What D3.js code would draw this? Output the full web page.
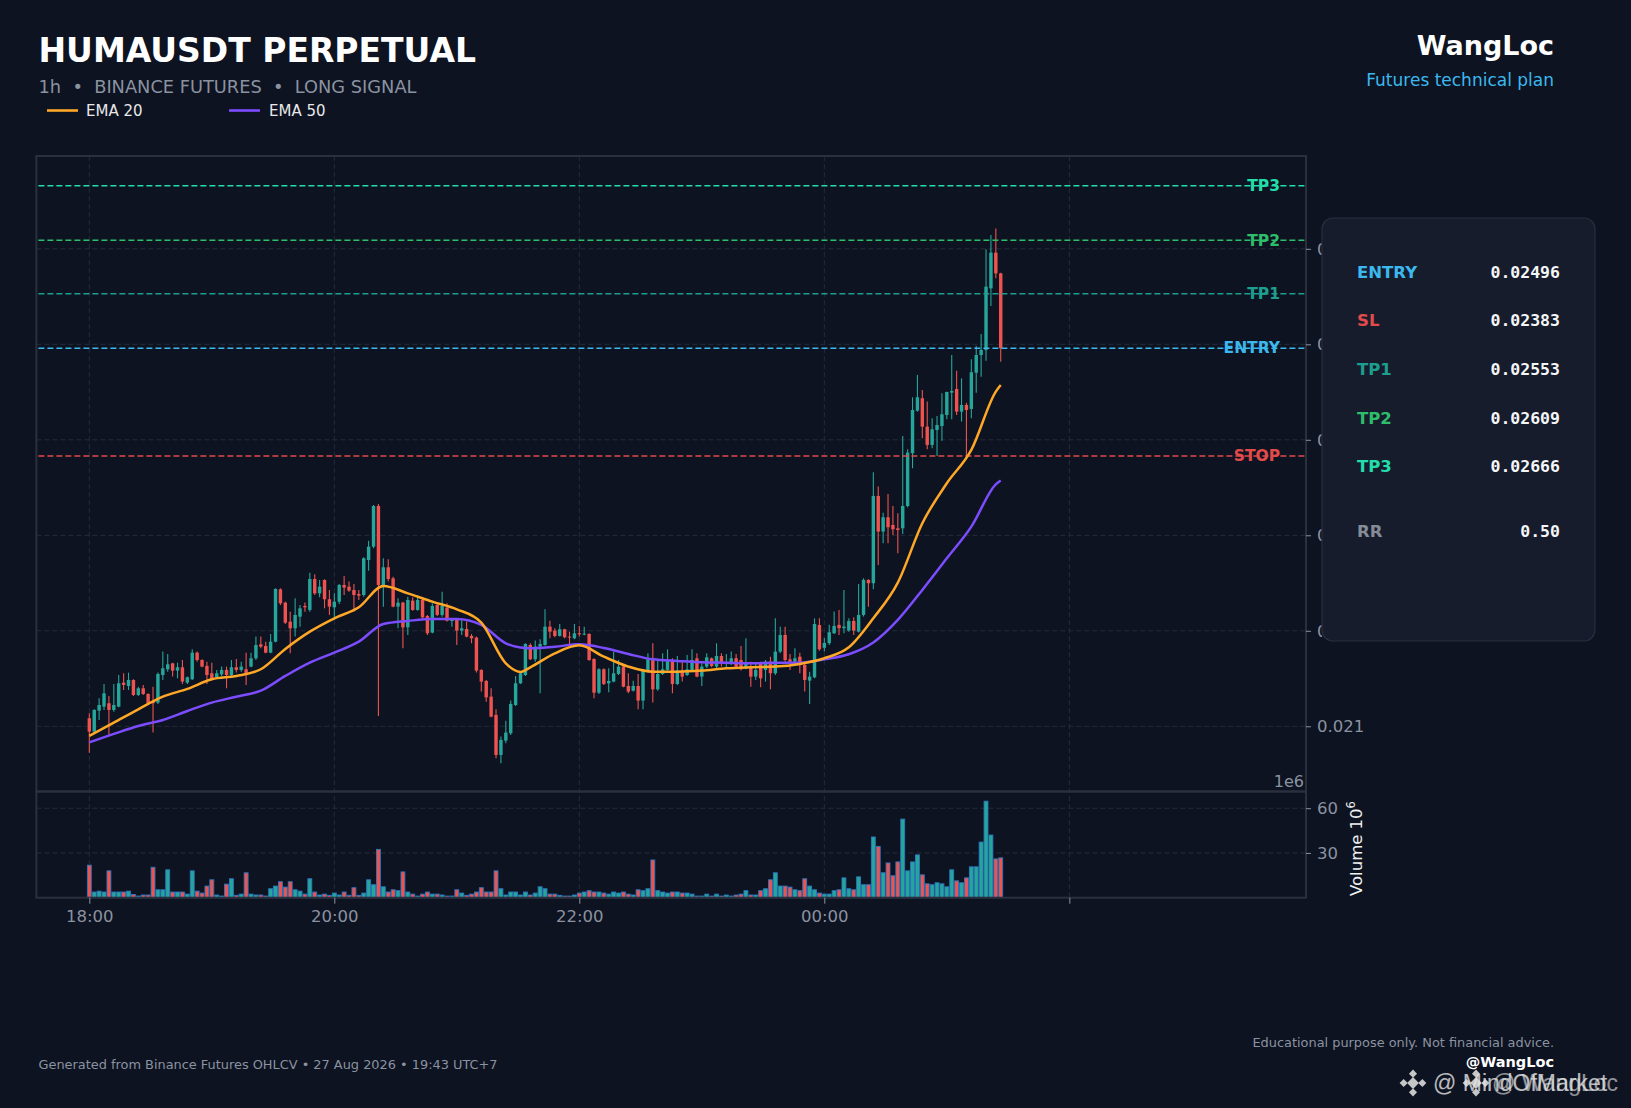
<!DOCTYPE html>
<html><head><meta charset="utf-8">
<script src="https://cdn.jsdelivr.net/npm/d3@7/dist/d3.min.js"></script>
<style>html,body{margin:0;padding:0;background:#0d1320;} svg{display:block;}</style>
</head><body><svg id="chart" width="1631" height="1108"></svg>
<script>
// ---------------- DATA ----------------
const candleOpen = [
0.021084,0.020944,0.021164,0.021206,0.021241,0.021171,0.021206,0.021457,0.021422,0.021485,
0.021328,0.021398,0.021338,0.021258,0.021248,0.021537,0.021597,0.021659,0.021583,0.021618,
0.021457,0.021492,0.021771,0.021694,0.021632,0.021555,0.021513,0.021544,0.021590,0.021537,
0.021618,0.021590,0.021597,0.021625,0.021712,0.021858,0.021841,0.021771,0.021886,0.022434,
0.022295,0.022096,0.022026,0.022148,0.022260,0.022218,0.022542,0.022392,0.022532,0.022330,
0.022246,0.022305,0.022480,0.022462,0.022427,0.022385,0.022375,0.022741,0.022881,0.023307,
0.022480,0.022665,0.022549,0.022253,0.022295,0.022036,0.022316,0.022218,0.022323,0.022155,
0.021981,0.022270,0.022166,0.022242,0.022106,0.022113,0.022002,0.022019,0.021946,0.021928,
0.021590,0.021475,0.021311,0.021119,0.020700,0.020850,0.020927,0.021223,0.021450,0.021537,
0.021851,0.021701,0.021834,0.021851,0.022043,0.022002,0.021946,0.022016,0.021939,0.021921,
0.021974,0.021963,0.021967,0.021705,0.021352,0.021597,0.021450,0.021468,0.021548,0.021625,
0.021422,0.021373,0.021422,0.021269,0.021583,0.021694,0.021387,0.021548,0.021590,0.021694,
0.021443,0.021583,0.021537,0.021590,0.021712,0.021520,0.021625,0.021712,0.021625,0.021736,
0.021652,0.021659,0.021712,0.021694,0.021607,0.021625,0.021520,0.021666,0.021590,0.021677,
0.021555,0.021782,0.021956,0.021701,0.021677,0.021729,0.021642,0.021478,0.021513,0.022061,
0.021822,0.021870,0.021974,0.022062,0.022027,0.022002,0.022103,0.021991,0.022166,0.022533,
0.022498,0.023412,0.023039,0.023189,0.023108,0.023073,0.023073,0.023307,0.023859,0.024305,
0.024435,0.024138,0.023946,0.024103,0.024145,0.024260,0.024494,0.024532,0.024295,0.024365,
0.024323,0.024703,0.024888,0.024941,0.025586,0.025960,0.025743];
const candleHigh = [
0.021136,0.021178,0.021293,0.021443,0.021317,0.021443,0.021537,0.021555,0.021562,0.021492,
0.021415,0.021433,0.021345,0.021415,0.021562,0.021782,0.021757,0.021666,0.021666,0.021694,
0.021520,0.021806,0.021782,0.021701,0.021677,0.021666,0.021590,0.021625,0.021625,0.021694,
0.021705,0.021677,0.021771,0.021771,0.021939,0.021939,0.021886,0.021967,0.022445,0.022445,
0.022305,0.022200,0.022340,0.022270,0.022295,0.022609,0.022591,0.022532,0.022539,0.022427,
0.022392,0.022490,0.022574,0.022515,0.022490,0.022427,0.022769,0.022944,0.023317,0.023328,
0.022759,0.022748,0.022567,0.022340,0.022305,0.022357,0.022351,0.022375,0.022340,0.022166,
0.022288,0.022281,0.022410,0.022288,0.022131,0.022131,0.022113,0.022096,0.021967,0.021939,
0.021597,0.021485,0.021398,0.021178,0.020892,0.021059,0.021269,0.021527,0.021572,0.021869,
0.021869,0.021897,0.021911,0.022225,0.022106,0.022026,0.022071,0.022022,0.021991,0.022071,
0.022050,0.022043,0.021974,0.021712,0.021607,0.021607,0.021607,0.021782,0.021694,0.021632,
0.021555,0.021478,0.021548,0.021590,0.021764,0.021869,0.021694,0.021764,0.021806,0.021712,
0.021736,0.021677,0.021747,0.021806,0.021764,0.021659,0.021764,0.021719,0.021869,0.021764,
0.021757,0.021782,0.021757,0.021841,0.021921,0.021677,0.021666,0.021677,0.021694,0.021729,
0.022131,0.022043,0.022043,0.021757,0.021817,0.021771,0.021659,0.021572,0.022131,0.022131,
0.021925,0.022062,0.022201,0.022218,0.022428,0.022131,0.022142,0.022491,0.022550,0.022540,
0.023660,0.023510,0.023237,0.023433,0.023307,0.023230,0.024040,0.023900,0.024445,0.024679,
0.024522,0.024400,0.024225,0.024250,0.024487,0.024504,0.024888,0.024724,0.024644,0.024389,
0.024843,0.024983,0.025108,0.025995,0.026145,0.026214,0.025750];
const candleLow = [
0.020724,0.020927,0.021066,0.021171,0.020909,0.021153,0.021199,0.021380,0.021380,0.021317,
0.021317,0.021328,0.021223,0.020934,0.021234,0.021485,0.021572,0.021520,0.021502,0.021443,
0.021443,0.021485,0.021677,0.021618,0.021443,0.021485,0.021502,0.021520,0.021398,0.021520,
0.021562,0.021572,0.021433,0.021618,0.021694,0.021817,0.021764,0.021764,0.021879,0.022270,
0.022071,0.021764,0.021939,0.022043,0.022200,0.022200,0.022375,0.022351,0.022235,0.022166,
0.022113,0.022281,0.022375,0.022410,0.022200,0.022323,0.022357,0.022630,0.022864,0.021108,
0.022253,0.022515,0.022246,0.022026,0.021817,0.021956,0.022211,0.022211,0.022131,0.021956,
0.021974,0.022155,0.022148,0.022096,0.022043,0.021851,0.021956,0.021932,0.021869,0.021562,
0.021363,0.021258,0.021094,0.020665,0.020613,0.020822,0.020909,0.021213,0.021443,0.021527,
0.021694,0.021677,0.021345,0.021844,0.021921,0.021932,0.021939,0.021921,0.021851,0.021911,
0.021939,0.021953,0.021687,0.021293,0.021338,0.021433,0.021356,0.021461,0.021537,0.021408,
0.021345,0.021363,0.021178,0.021178,0.021572,0.021248,0.021373,0.021537,0.021583,0.021345,
0.021433,0.021468,0.021527,0.021572,0.021513,0.021422,0.021607,0.021618,0.021607,0.021625,
0.021618,0.021642,0.021607,0.021583,0.021597,0.021415,0.021485,0.021408,0.021468,0.021387,
0.021537,0.021764,0.021677,0.021590,0.021632,0.021555,0.021363,0.021234,0.021502,0.021792,
0.021782,0.021852,0.021967,0.021956,0.021974,0.021991,0.021956,0.021981,0.022149,0.022253,
0.022435,0.022690,0.022916,0.022916,0.023003,0.022812,0.023014,0.023293,0.023702,0.024295,
0.024016,0.023900,0.023911,0.023831,0.023991,0.024215,0.024215,0.024260,0.024190,0.023824,
0.024225,0.024494,0.024661,0.024829,0.025401,0.025691,0.024818];
const candleClose = [
0.020944,0.021171,0.021223,0.021345,0.021171,0.021223,0.021450,0.021433,0.021485,0.021328,
0.021398,0.021338,0.021241,0.021241,0.021548,0.021607,0.021649,0.021583,0.021618,0.021468,
0.021513,0.021771,0.021694,0.021625,0.021537,0.021495,0.021555,0.021590,0.021537,0.021618,
0.021590,0.021625,0.021555,0.021712,0.021851,0.021834,0.021771,0.021886,0.022438,0.022288,
0.022085,0.022026,0.022166,0.022235,0.022246,0.022542,0.022392,0.022462,0.022330,0.022253,
0.022305,0.022480,0.022452,0.022420,0.022375,0.022368,0.022759,0.022881,0.023307,0.022480,
0.022665,0.022542,0.022253,0.022295,0.022036,0.022323,0.022218,0.022323,0.022141,0.021974,
0.022260,0.022166,0.022260,0.022106,0.022113,0.022002,0.022026,0.021939,0.021921,0.021583,
0.021468,0.021303,0.021101,0.020700,0.020857,0.020934,0.021234,0.021450,0.021555,0.021862,
0.021701,0.021834,0.021862,0.022043,0.021991,0.021946,0.022016,0.021932,0.021932,0.021974,
0.021963,0.021970,0.021694,0.021352,0.021597,0.021443,0.021475,0.021555,0.021625,0.021415,
0.021363,0.021422,0.021269,0.021583,0.021701,0.021387,0.021548,0.021597,0.021694,0.021443,
0.021583,0.021520,0.021597,0.021694,0.021520,0.021625,0.021722,0.021632,0.021736,0.021666,
0.021666,0.021712,0.021625,0.021597,0.021666,0.021520,0.021590,0.021502,0.021677,0.021555,
0.021782,0.021956,0.021694,0.021677,0.021712,0.021642,0.021485,0.021520,0.022071,0.021806,
0.021873,0.021985,0.022051,0.022027,0.022044,0.022103,0.022002,0.022166,0.022533,0.022498,
0.023412,0.023039,0.023189,0.023084,0.023063,0.023056,0.023307,0.023866,0.024312,0.024445,
0.024138,0.023946,0.024110,0.024155,0.024267,0.024501,0.024511,0.024295,0.024365,0.024312,
0.024707,0.024888,0.024941,0.025604,0.025960,0.025743,0.024958];
// volume in millions
const volumeM = [
21.8,3.8,4.4,3.8,18.0,3.8,3.8,3.8,4.4,2.2,
1.1,1.8,1.8,20.4,5.3,5.3,18.7,3.8,3.8,3.8,
2.4,18.0,4.4,3.1,7.8,12.0,1.8,1.1,9.1,12.7,
1.6,2.4,16.7,2.4,1.8,1.8,1.1,6.0,7.8,10.7,
7.1,10.7,5.3,4.4,2.4,12.7,3.8,1.8,2.4,1.6,
3.1,1.8,3.8,1.6,6.7,1.6,3.1,12.0,8.7,32.4,
7.3,3.8,5.3,4.7,17.3,3.8,2.4,1.1,2.4,3.8,
2.4,2.4,1.8,1.1,1.1,5.3,3.1,1.6,2.4,3.8,
6.7,3.8,3.8,18.0,6.0,1.8,3.8,3.8,1.8,3.8,
1.8,3.1,7.3,6.0,2.4,2.4,1.6,1.1,1.1,1.8,
3.1,3.8,4.7,3.8,3.8,3.1,2.4,3.8,3.1,3.8,
2.4,1.8,5.3,4.7,6.0,25.3,4.7,3.8,3.1,3.8,
3.8,3.1,3.1,2.4,1.1,1.1,2.4,1.1,2.4,1.1,
1.8,1.1,1.8,2.4,4.7,1.8,1.8,4.7,6.0,12.0,
16.7,7.8,7.8,7.1,5.3,4.7,12.7,7.8,5.3,3.1,
2.4,2.4,4.7,5.3,13.3,6.0,5.3,14.0,8.7,8.7,
40.7,34.4,16.7,23.3,14.7,24.0,52.7,18.0,24.0,28.7,
15.3,9.3,8.7,10.0,9.3,7.3,18.7,11.3,10.0,13.3,
20.7,20.7,37.3,64.7,42.0,26.0,26.7];
// EMA readings (candle index -> value)
const emaIndex = [0,5,10,15,20,25,30,35,40,45,50,55,60,65,70,75,80,85,88,90,95,100,105,110,115,120,125,130,135,140,145,150,155,160,165,170,175,180,185,186];
const ema20 = [0.020899,0.021038,0.021178,0.021310,0.021391,0.021492,0.021527,0.021597,0.021810,0.021991,
0.022131,0.022246,0.022469,0.022392,0.022305,0.022225,0.022085,0.021659,0.021569,0.021618,
0.021764,0.021848,0.021729,0.021625,0.021572,0.021572,0.021583,0.021607,0.021618,0.021625,
0.021653,0.021712,0.021827,0.022131,0.022505,0.023126,0.023545,0.023894,0.024505,0.024574];
const ema50 = [0.020832,0.020920,0.021003,0.021066,0.021160,0.021248,0.021310,0.021373,0.021527,0.021666,
0.021771,0.021886,0.022071,0.022103,0.022124,0.022124,0.022061,0.021869,0.021824,0.021817,
0.021834,0.021858,0.021820,0.021757,0.021701,0.021684,0.021670,0.021666,0.021659,0.021666,
0.021666,0.021701,0.021754,0.021877,0.022114,0.022428,0.022759,0.023091,0.023534,0.023573];
// trade levels
const levelNames = ["TP3","TP2","TP1","ENTRY","STOP"];
const levelValues = [0.02666,0.02609,0.02553,0.02496,0.02383];
const panelLabels = ["ENTRY","SL","TP1","TP2","TP3"];
const panelValues = ["0.02496","0.02383","0.02553","0.02609","0.02666"];
const rrValue = "0.50";
const priceTicks = [0.021,0.022,0.023,0.024,0.025,0.026];
const volumeTicks = [30,60];
const timeTickIndex = [0,50,100,150,200];
const timeTickLabels = ["18:00","20:00","22:00","00:00",""];

// ---------------- STYLE ----------------
const C = {
  bg:"#0d1320", panel:"#161c2b", panelStroke:"#272e3e", frame:"#2a303e", grid:"#252c3a",
  text:"#8b92a0", up:"#26a69a", down:"#ef5350", volEdge:"#2b78c2",
  ema20:"#ffa726", ema50:"#7c4dff"
};
const levelColors = {TP3:"#21deab", TP2:"#2ebd6b", TP1:"#1e9e8e", ENTRY:"#3cb8ee", STOP:"#e24b4b", SL:"#e24b4b"};
const FONT = "DejaVu Sans, Verdana, sans-serif";
const MONO = "DejaVu Sans Mono, monospace";

const svg = d3.select("#chart");
svg.append("rect").attr("width",1631).attr("height",1108).attr("fill",C.bg);

const L = 36.4, R = 1306, TOP = 156, MID = 791.5, BOT = 897.7;
const PANEL_X = 1322;
const x = d3.scaleLinear().domain([-10.8, 248.3]).range([L, R]);
const yP = d3.scaleLinear().domain([0.020317, 0.026972]).range([MID, TOP]);
const yV = d3.scaleLinear().domain([0, 71.2]).range([BOT, MID]);

// ---------------- GRID ----------------
const grid = svg.append("g");
grid.selectAll(".gp").data(priceTicks).join("line")
  .attr("x1",L).attr("x2",R).attr("y1",d=>yP(d)).attr("y2",d=>yP(d))
  .attr("stroke",C.grid).attr("stroke-dasharray","5,3").attr("stroke-width",1);
grid.selectAll(".gv").data(volumeTicks).join("line")
  .attr("x1",L).attr("x2",R).attr("y1",d=>yV(d)).attr("y2",d=>yV(d))
  .attr("stroke",C.grid).attr("stroke-dasharray","5,3").attr("stroke-width",1);
grid.selectAll(".gx").data(timeTickIndex).join("line")
  .attr("x1",d=>x(d)).attr("x2",d=>x(d)).attr("y1",TOP).attr("y2",BOT)
  .attr("stroke",C.grid).attr("stroke-dasharray","5,3").attr("stroke-width",1);

// ---------------- CANDLES ----------------
const idx = d3.range(candleClose.length);
const isUp = i => candleClose[i] >= candleOpen[i];
const step = x(1) - x(0);
const bw = step * 0.7;
const cg = svg.append("g");
cg.selectAll(".wick").data(idx).join("line")
  .attr("x1",i=>x(i)).attr("x2",i=>x(i))
  .attr("y1",i=>yP(candleHigh[i])).attr("y2",i=>yP(candleLow[i]))
  .attr("stroke",i=>isUp(i)?C.up:C.down).attr("stroke-width",1.1);
cg.selectAll(".body").data(idx).join("rect")
  .attr("x",i=>x(i)-bw/2).attr("width",bw)
  .attr("y",i=>yP(Math.max(candleOpen[i],candleClose[i])))
  .attr("height",i=>Math.max(1,Math.abs(yP(candleOpen[i])-yP(candleClose[i]))))
  .attr("fill",i=>isUp(i)?C.up:C.down);

// ---------------- VOLUME ----------------
const vw = step * 0.8;
svg.append("g").selectAll("rect").data(idx).join("rect")
  .attr("x",i=>x(i)-vw/2).attr("width",vw)
  .attr("y",i=>yV(volumeM[i])).attr("height",i=>yV(0)-yV(volumeM[i]))
  .attr("fill",i=>isUp(i)?C.up:C.down)
  .attr("stroke",C.volEdge).attr("stroke-width",0.9);

// ---------------- LEVELS ----------------
const lg = svg.append("g");
levelNames.forEach((n,k)=>{
  const yy = yP(levelValues[k]);
  lg.append("line").attr("x1",L+2).attr("x2",R).attr("y1",yy).attr("y2",yy)
    .attr("stroke",levelColors[n]).attr("stroke-width",1.5).attr("stroke-dasharray","6,3");
  lg.append("text").attr("x",1280).attr("y",yy+5.3).attr("text-anchor","end")
    .attr("font-family",FONT).attr("font-weight","bold").attr("font-size",15.5)
    .attr("fill",levelColors[n]).text(n);
});

// ---------------- EMA ----------------
const line = d3.line().x(d=>x(d[0])).y(d=>yP(d[1])).curve(d3.curveMonotoneX);
svg.append("path").datum(emaIndex.map((v,k)=>[v,ema50[k]])).attr("d",line)
  .attr("fill","none").attr("stroke",C.ema50).attr("stroke-width",2.5);
svg.append("path").datum(emaIndex.map((v,k)=>[v,ema20[k]])).attr("d",line)
  .attr("fill","none").attr("stroke",C.ema20).attr("stroke-width",2.5);

// ---------------- FRAMES ----------------
svg.append("rect").attr("x",L).attr("y",TOP).attr("width",R-L).attr("height",MID-TOP)
  .attr("fill","none").attr("stroke",C.frame).attr("stroke-width",2);
svg.append("rect").attr("x",L).attr("y",MID).attr("width",R-L).attr("height",BOT-MID)
  .attr("fill","none").attr("stroke",C.frame).attr("stroke-width",2);

// ---------------- AXES ----------------
function styleAxis(g){
  g.select(".domain").remove();
  g.selectAll(".tick line").attr("stroke",C.text).attr("stroke-width",1);
  g.selectAll(".tick text").attr("fill",C.text).attr("font-family",FONT).attr("font-size",16.5);
}
// price labels that sit under the info panel are cut at its edge (as in the reference)
const priceAxis = svg.append("g").attr("transform",`translate(${R},0)`)
  .call(d3.axisRight(yP).tickValues(priceTicks).tickFormat(d3.format(".3f")).tickSize(5).tickPadding(6))
  .call(styleAxis);
priceAxis.append("defs").append("clipPath").attr("id","axisClipLocal").append("rect")
  .attr("x",0).attr("y",-20).attr("width",PANEL_X-R).attr("height",40);
priceAxis.selectAll(".tick").filter(d=>yP(d) > 218 && yP(d) < 641)
  .select("text").attr("clip-path","url(#axisClipLocal)");
svg.append("g").attr("transform",`translate(${R},0)`)
  .call(d3.axisRight(yV).tickValues(volumeTicks).tickFormat(d=>String(d)).tickSize(5).tickPadding(6))
  .call(styleAxis);
svg.append("g").attr("transform",`translate(0,${BOT})`)
  .call(d3.axisBottom(x).tickValues(timeTickIndex).tickFormat((d,k)=>timeTickLabels[k]).tickSize(6).tickPadding(7))
  .call(styleAxis);

svg.append("text").attr("x",1304).attr("y",786.5).attr("text-anchor","end")
  .attr("font-family",FONT).attr("font-size",16).attr("fill",C.text).text("1e6");
const vl = svg.append("text").attr("transform","translate(1361.5,896) rotate(-90)")
  .attr("font-family",FONT).attr("font-size",16.5).attr("fill","#f0f0f0");
vl.append("tspan").text("Volume  10");
vl.append("tspan").attr("dy",-7).attr("font-size",11.5).text("6");

// ---------------- INFO PANEL ----------------
svg.append("rect").attr("x",PANEL_X).attr("y",218).attr("width",273).attr("height",423).attr("rx",11)
  .attr("fill",C.panel).attr("stroke",C.panelStroke).attr("stroke-width",1.2);
const rowY = [277.7,326.3,374.9,423.5,472.1];
panelLabels.forEach((n,k)=>{
  svg.append("text").attr("x",1357).attr("y",rowY[k]).attr("font-family",FONT).attr("font-weight","bold")
    .attr("font-size",16.5).attr("fill",levelColors[n]).text(n);
  svg.append("text").attr("x",1560).attr("y",rowY[k]).attr("text-anchor","end").attr("font-family",MONO)
    .attr("font-weight","bold").attr("font-size",16.5).attr("fill","#f4f5f7").text(panelValues[k]);
});
svg.append("text").attr("x",1357).attr("y",536.7).attr("font-family",FONT).attr("font-weight","bold")
  .attr("font-size",16.5).attr("fill","#858b98").text("RR");
svg.append("text").attr("x",1560).attr("y",536.7).attr("text-anchor","end").attr("font-family",MONO)
  .attr("font-weight","bold").attr("font-size",16.5).attr("fill","#f4f5f7").text(rrValue);

// ---------------- HEADER ----------------
svg.append("text").attr("x",38.5).attr("y",61.5).attr("font-family",FONT).attr("font-weight","bold")
  .attr("font-size",33).attr("fill","#ffffff").text("HUMAUSDT PERPETUAL");
svg.append("text").attr("x",38.5).attr("y",92.7).attr("font-family",FONT).attr("font-size",17.8)
  .attr("fill",C.text).style("white-space","pre")
  .text("1h  \u2022  BINANCE FUTURES  \u2022  LONG SIGNAL");
const legend = [["EMA 20",C.ema20,47,86],["EMA 50",C.ema50,229,269]];
legend.forEach(([t,c,lx,tx])=>{
  svg.append("line").attr("x1",lx).attr("x2",lx+31).attr("y1",110.5).attr("y2",110.5)
    .attr("stroke",c).attr("stroke-width",2.6);
  svg.append("text").attr("x",tx).attr("y",115.5).attr("font-family",FONT).attr("font-size",15)
    .attr("fill","#e8e8ea").text(t);
});
svg.append("text").attr("x",1554).attr("y",55).attr("text-anchor","end").attr("font-family",FONT)
  .attr("font-weight","bold").attr("font-size",27).attr("fill","#ffffff").text("WangLoc");
svg.append("text").attr("x",1554).attr("y",85.5).attr("text-anchor","end").attr("font-family",FONT)
  .attr("font-size",17).attr("fill","#3cb8ee").text("Futures technical plan");

// ---------------- FOOTER ----------------
svg.append("text").attr("x",38.5).attr("y",1068.5).attr("font-family",FONT).attr("font-size",12.9)
  .attr("fill",C.text).text("Generated from Binance Futures OHLCV \u2022 27 Aug 2026 \u2022 19:43 UTC+7");
svg.append("text").attr("x",1554).attr("y",1046.7).attr("text-anchor","end").attr("font-family",FONT)
  .attr("font-size",12.9).attr("fill",C.text).text("Educational purpose only. Not financial advice.");
svg.append("text").attr("x",1554).attr("y",1067.2).attr("text-anchor","end").attr("font-family",FONT)
  .attr("font-weight","bold").attr("font-size",14.5).attr("fill","#ffffff").text("@WangLoc");

// watermark overlay
function logo(cx,cy,s){
  const g = svg.append("g").attr("transform",`translate(${cx},${cy})`).attr("fill","#e6e6e6").attr("opacity",0.85);
  const d = [[0,0,s*0.32],[0,-s*0.72,s*0.22],[0,s*0.72,s*0.22],[-s*0.72,0,s*0.22],[s*0.72,0,s*0.22]];
  d.forEach(([dx,dy,r])=>g.append("rect").attr("x",dx-r).attr("y",dy-r).attr("width",2*r).attr("height",2*r)
    .attr("transform",`rotate(45,${dx},${dy})`));
}
logo(1413,1083,13);
logo(1476,1083,13);
svg.append("text").attr("x",1433).attr("y",1091).attr("font-family","Liberation Sans, Arial, sans-serif")
  .attr("font-size",23).attr("fill","#e6e6e6").attr("opacity",0.8).text("@ MindOfMarket");
svg.append("text").attr("x",1492).attr("y",1091).attr("font-family","Liberation Sans, Arial, sans-serif")
  .attr("font-size",23).attr("fill","#e6e6e6").attr("opacity",0.6).text("@ WangLoc");
</script></body></html>
